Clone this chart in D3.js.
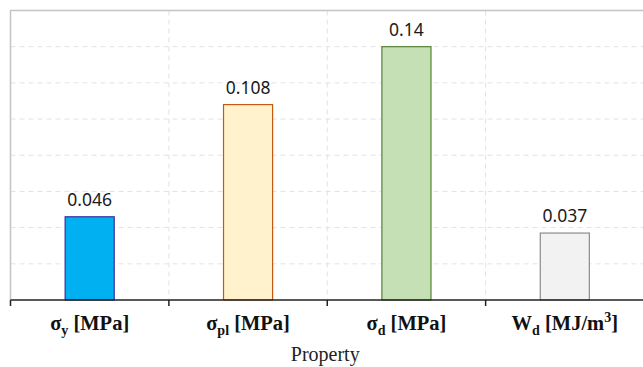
<!DOCTYPE html>
<html>
<head>
<meta charset="utf-8">
<script src="https://cdn.jsdelivr.net/npm/d3@7"></script>
<style>
  html, body { margin: 0; padding: 0; background: #fff; }
  svg { display: block; }
</style>
</head>
<body>
<svg id="chart" width="643" height="367"></svg>
<script>
// Material properties shown as bars
const properties = ["sy", "spl", "sd", "Wd"];
const symbols = ["σ", "σ", "σ", "W"];
const subscripts = ["y", "pl", "d", "d"];
const units = ["[MPa]", "[MPa]", "[MPa]", "[MJ/m"];
const unitSuperscripts = ["", "", "", "3"];
const values = [0.046, 0.108, 0.14, 0.037];
const valueLabels = ["0.046", "0.108", "0.14", "0.037"];
const yTicks = [0.02, 0.04, 0.06, 0.08, 0.10, 0.12, 0.14];
const yMax = 0.16;

const fills = ["#00B0F0", "#FFF2CC", "#C5E0B4", "#F2F2F2"];
const strokes = ["#3a2fa0", "#C55A11", "#548235", "#8c8c8c"];

const svg = d3.select("#chart");
const plotLeft = 10.5, plotRight = 644, plotTop = 10.5, plotBottom = 300;

const x = d3.scaleBand().domain(properties).range([plotLeft, plotRight]).padding(0);
const y = d3.scaleLinear().domain([0, yMax]).range([plotBottom, plotTop]);
const barW = x.bandwidth() * 0.31;

// dashed grid
svg.append("g")
  .selectAll("line")
  .data(yTicks)
  .join("line")
  .attr("x1", plotLeft).attr("x2", plotRight)
  .attr("y1", d => y(d)).attr("y2", d => y(d))
  .attr("stroke", "#e2e2e2")
  .attr("stroke-width", 1)
  .attr("stroke-dasharray", "5,4");

svg.append("g")
  .selectAll("line")
  .data(properties.slice(1))
  .join("line")
  .attr("x1", d => x(d)).attr("x2", d => x(d))
  .attr("y1", plotTop).attr("y2", plotBottom)
  .attr("stroke", "#e2e2e2")
  .attr("stroke-width", 1)
  .attr("stroke-dasharray", "5,4");

// frame: top and left edges
svg.append("path")
  .attr("d", `M${plotLeft},${plotBottom}V${plotTop}H${plotRight}`)
  .attr("fill", "none")
  .attr("stroke", "#c4c4c4")
  .attr("stroke-width", 1.5);

// bars
svg.append("g")
  .selectAll("rect")
  .data(properties)
  .join("rect")
  .attr("x", d => x(d) + x.bandwidth() / 2 - barW / 2)
  .attr("width", barW)
  .attr("y", (d, i) => y(values[i]))
  .attr("height", (d, i) => y(0) - y(values[i]))
  .attr("fill", (d, i) => fills[i])
  .attr("stroke", (d, i) => strokes[i])
  .attr("stroke-width", 1.2);

// value labels
svg.append("g")
  .selectAll("text")
  .data(properties)
  .join("text")
  .attr("x", d => x(d) + x.bandwidth() / 2)
  .attr("y", (d, i) => y(values[i]) - 11)
  .attr("text-anchor", "middle")
  .attr("font-family", "'Noto Sans', 'Open Sans', sans-serif")
  .attr("font-size", 17.5)
  .attr("fill", "#1a1a1a")
  .text((d, i) => valueLabels[i]);

// x axis
const xAxis = d3.axisBottom(x).tickSize(0).tickFormat("");
const axisG = svg.append("g")
  .attr("transform", `translate(0,${plotBottom})`)
  .call(xAxis);
axisG.select(".domain")
  .attr("d", `M${plotLeft},0H${plotRight}`)
  .attr("stroke", "#222")
  .attr("stroke-width", 1.5);

// boundary ticks
axisG.append("g")
  .selectAll("line")
  .data(properties)
  .join("line")
  .attr("x1", d => x(d)).attr("x2", d => x(d))
  .attr("y1", 0).attr("y2", 6)
  .attr("stroke", "#222")
  .attr("stroke-width", 1.5);

// category labels with sub/superscripts
const labels = axisG.append("g")
  .selectAll("text")
  .data(properties)
  .join("text")
  .attr("x", d => x(d) + x.bandwidth() / 2)
  .attr("y", 30)
  .attr("text-anchor", "middle")
  .attr("font-family", "'Liberation Serif', 'Times New Roman', serif")
  .attr("font-weight", "bold")
  .attr("font-size", 20.5)
  .attr("fill", "#111");

labels.each(function(d, i) {
  const t = d3.select(this);
  t.append("tspan").text(symbols[i]);
  t.append("tspan").attr("font-size", 14).attr("dy", 5).text(subscripts[i]);
  t.append("tspan").attr("dy", -5).text("\u00a0" + units[i]);
  if (unitSuperscripts[i]) {
    t.append("tspan").attr("font-size", 14).attr("dy", -8).text(unitSuperscripts[i]);
    t.append("tspan").attr("dy", 8).text("]");
  }
});

// axis title
svg.append("text")
  .attr("x", (plotLeft + plotRight) / 2 - 2)
  .attr("y", 361)
  .attr("text-anchor", "middle")
  .attr("font-family", "'Liberation Serif', 'Times New Roman', serif")
  .attr("font-size", 20)
  .attr("fill", "#222")
  .text("Property");
</script>
</body>
</html>
